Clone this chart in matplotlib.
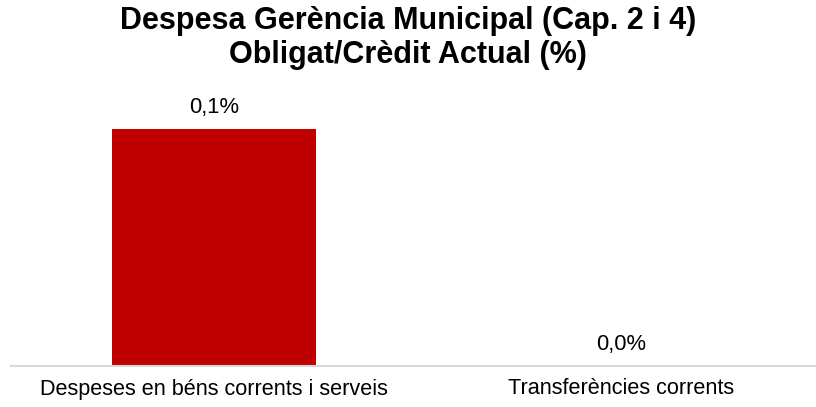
import matplotlib.pyplot as plt

categories = ['Despeses en béns corrents i serveis', 'Transferències corrents']
values = [0.1, 0.0]
labels = ['0,1%', '0,0%']

plt.rcParams['font.family'] = ['Liberation Sans', 'DejaVu Sans']

fig = plt.figure(figsize=(8.16, 4.07), dpi=100)
ax = fig.add_axes([10.5 / 816, 1 - 366 / 407, 814 / 816, (366 - 85) / 407])

x = range(len(categories))
ax.bar(x, values, width=0.501, color='#C00000')
for xi, v, lab in zip(x, values, labels):
    ax.annotate(lab, (xi, v), xytext=(0, 8), textcoords='offset points',
                ha='center', va='bottom', fontsize=15.8)

ax.set_xlim(-0.5, 1.5)
ax.set_ylim(0, 0.1186)
ax.set_xticks(list(x))
ax.set_xticklabels(categories, fontsize=15.6)
ax.tick_params(axis='x', length=0, pad=9)
ax.set_yticks([])
for s in ['top', 'right', 'left']:
    ax.spines[s].set_visible(False)
ax.spines['bottom'].set_color('#D9D9D9')
ax.spines['bottom'].set_linewidth(1.5)

fig.suptitle('Despesa Gerència Municipal (Cap. 2 i 4)\nObligat/Crèdit Actual (%)',
             fontsize=22, fontweight='bold', y=0.985, linespacing=1.15)

fig.savefig('out.png', dpi=100)
